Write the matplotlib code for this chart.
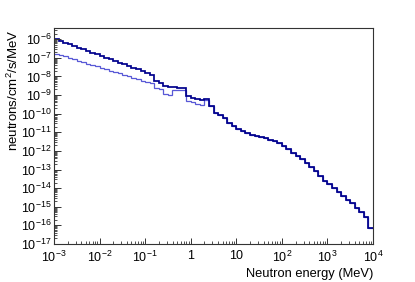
import numpy as np
import matplotlib
matplotlib.use("Agg")
import matplotlib.pyplot as plt
from matplotlib.ticker import FixedLocator, FixedFormatter, NullFormatter

plt.rcParams['font.family'] = ['Liberation Sans', 'DejaVu Sans']
plt.rcParams['mathtext.fontset'] = 'custom'
plt.rcParams['mathtext.rm'] = 'Liberation Sans'
plt.rcParams['mathtext.it'] = 'Liberation Sans:italic'
plt.rcParams['mathtext.bf'] = 'Liberation Sans:bold'

# bin edges: 10 log bins per decade from 1e-3 to 1e4 MeV
edges = np.logspace(-3, 4, 71)

# log10 of flux (neutrons/cm2/s/MeV), dark curve
total_log = [-6.00, -6.09, -6.18, -6.27, -6.36, -6.45, -6.54, -6.63, -6.72, -6.81,
             -6.90, -6.99, -7.08, -7.17, -7.26, -7.35, -7.44, -7.53, -7.62, -7.71,
             -7.80, -7.90, -8.22, -8.33, -8.50, -8.58, -8.56, -8.60, -8.62, -9.07,
             -9.14, -9.20, -9.25, -9.22, -9.60, -9.95, -10.05, -10.25, -10.50, -10.65,
             -10.80, -10.95, -11.05, -11.15, -11.22, -11.28, -11.33, -11.40, -11.46, -11.57,
             -11.75, -11.92, -12.10, -12.28, -12.46, -12.66, -12.88, -13.10, -13.35, -13.60,
             -13.80, -14.00, -14.20, -14.42, -14.62, -14.82, -15.05, -15.28, -15.53, -16.12]

# log10 of flux, lighter curve (differs below ~3 MeV)
partial_low_log = [-6.78, -6.86, -6.93, -7.01, -7.08, -7.16, -7.24, -7.31, -7.39, -7.46,
                   -7.54, -7.62, -7.69, -7.77, -7.84, -7.92, -8.00, -8.07, -8.15, -8.22,
                   -8.28, -8.35, -8.62, -8.68, -8.95, -8.98, -8.72, -8.72, -8.75, -9.34,
                   -9.40, -9.48, -9.52, -9.25]
partial_log = partial_low_log + total_log[len(partial_low_log):]

total = 10.0 ** np.array(total_log)
partial = 10.0 ** np.array(partial_log)

xticks = [1e-3, 1e-2, 1e-1, 1, 10, 1e2, 1e3, 1e4]
xticklabels = ['$10^{-3}$', '$10^{-2}$', '$10^{-1}$', '1', '10', '$10^{2}$', '$10^{3}$', '$10^{4}$']
yexp = list(range(-17, -5))
yticklabels = ['$10^{%d}$' % e for e in yexp]

fig = plt.figure(figsize=(4.15, 2.82), dpi=100)
ax = fig.add_axes([54/415, 1-244/282, (373-54)/415, (244-28)/282])

ax.stairs(partial, edges, color='#4646d2', lw=0.9, alpha=0.9, baseline=None)
ax.stairs(total, edges, color='#00008c', lw=1.25, baseline=None)

ax.set_xscale('log')
ax.set_yscale('log')
ax.set_xlim(1e-3, 1e4)
ax.set_ylim(1e-17, 10**-5.4)

ax.xaxis.set_major_locator(FixedLocator(xticks))
ax.xaxis.set_major_formatter(FixedFormatter(xticklabels))
xminor = [m * 10.0**d for d in range(-3, 4) for m in range(2, 10)]
ax.xaxis.set_minor_locator(FixedLocator(xminor))
ax.xaxis.set_minor_formatter(NullFormatter())

ax.yaxis.set_major_locator(FixedLocator([10.0**e for e in yexp]))
ax.yaxis.set_major_formatter(FixedFormatter(yticklabels))
yminor = [m * 10.0**d for d in range(-17, -5) for m in range(2, 10)]
ax.yaxis.set_minor_locator(FixedLocator(yminor))
ax.yaxis.set_minor_formatter(NullFormatter())

ax.tick_params(which='both', direction='in', top=False, right=False, labelsize=9,
               color='#333333')
ax.tick_params(axis='x', which='major', length=4.5, width=0.7, pad=4)
ax.tick_params(axis='x', which='minor', length=2.2, width=0.6)
ax.tick_params(axis='y', which='major', length=5, width=0.7, pad=2)
ax.tick_params(axis='y', which='minor', length=2.5, width=0.6)

for s in ax.spines.values():
    s.set_linewidth(0.8)
    s.set_color('#333333')

ax.set_xlabel('Neutron energy (MeV)', fontsize=9.3, ha='right')
ax.xaxis.set_label_coords(1.0, -0.11)
ax.set_ylabel('neutrons/cm$^{2}$/s/MeV', fontsize=9.5, ha='right')
ax.yaxis.set_label_coords(-0.105, 0.995)

fig.savefig('out.png', dpi=100)
